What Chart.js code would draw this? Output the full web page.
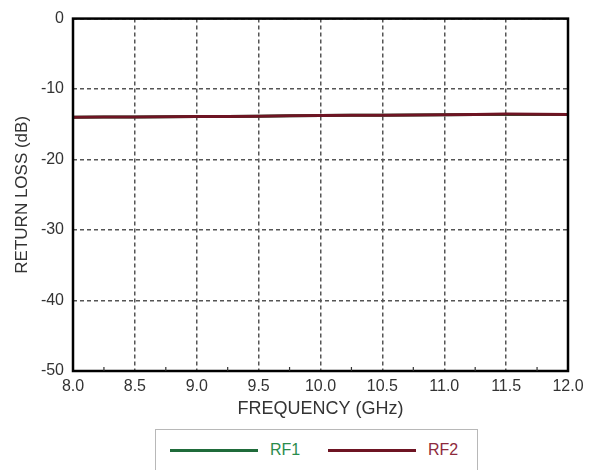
<!DOCTYPE html>
<html>
<head>
<meta charset="utf-8">
<script src="https://cdn.jsdelivr.net/npm/chart.js@4/dist/chart.umd.min.js"></script>
<style>
  html, body { margin: 0; padding: 0; background: #fff; }
  #wrap { position: relative; width: 593px; height: 470px; overflow: hidden; }
  #chart-box { position: absolute; left: 0; top: 0; width: 593px; height: 420px; }
  #legend {
    position: absolute; left: 155px; top: 429px; width: 323px; height: 44px;
    border: 1.5px solid #b8b8b8; box-sizing: border-box;
    font-family: 'Liberation Sans', Arial, sans-serif; font-size: 16px;
  }
  .leg-item { position: absolute; top: 11px; display: flex; align-items: center; }
  .leg-line { display: inline-block; width: 88px; height: 3px; margin-right: 12px; }
</style>
</head>
<body>
<div id="wrap">
  <div id="chart-box"><canvas id="rl-chart"></canvas></div>
  <div id="legend">
    <div class="leg-item" style="left:14px">
      <span class="leg-line" style="background:#1f6b3a"></span><span style="color:#2a8c4c">RF1</span>
    </div>
    <div class="leg-item" style="left:172px">
      <span class="leg-line" style="background:#6e1423"></span><span style="color:#8e2a3c">RF2</span>
    </div>
  </div>
</div>
<script>
/* data */
const FREQ = [8.0, 8.5, 9.0, 9.5, 10.0, 10.5, 11.0, 11.5, 12.0];
const RF1  = [-14.0, -13.95, -13.9, -13.85, -13.75, -13.7, -13.65, -13.6, -13.6];
const RF2  = [-14.0, -13.95, -13.9, -13.85, -13.75, -13.7, -13.65, -13.55, -13.6];

const X_MIN = 8.0, X_MAX = 12.0, X_STEP = 0.5;
const Y_MIN = -50, Y_MAX = 0, Y_STEP = 10;

const FONT = "'Liberation Sans', Arial, sans-serif";
const TEXT_COLOR = '#333';
const GRID_COLOR = '#555';

/* frame around the plot + small minor ticks on x */
const framePlugin = {
  id: 'frame',
  afterDatasetsDraw(chart) {
    const { ctx, chartArea: a, scales } = chart;
    ctx.save();
    ctx.strokeStyle = '#000';
    ctx.lineWidth = 2.5;
    ctx.strokeRect(a.left, a.top, a.right - a.left, a.bottom - a.top);
    ctx.lineWidth = 1.2;
    ctx.strokeStyle = '#333';
    for (let v = X_MIN + 0.25; v < X_MAX; v += 0.5) {
      const x = scales.x.getPixelForValue(v);
      ctx.beginPath();
      ctx.moveTo(x, a.bottom);
      ctx.lineTo(x, a.bottom - 4);
      ctx.stroke();
    }
    ctx.restore();
  }
};

new Chart(document.getElementById('rl-chart'), {
  type: 'line',
  data: {
    datasets: [
      {
        label: 'RF1',
        data: FREQ.map((f, i) => ({ x: f, y: RF1[i] })),
        borderColor: '#1f6b3a',
        borderWidth: 3,
        pointRadius: 0,
        tension: 0.3,
        order: 2,
      },
      {
        label: 'RF2',
        data: FREQ.map((f, i) => ({ x: f, y: RF2[i] })),
        borderColor: '#6e1423',
        borderWidth: 3,
        pointRadius: 0,
        tension: 0.3,
        order: 1,
      },
    ],
  },
  options: {
    responsive: true,
    maintainAspectRatio: false,
    animation: false,
    layout: { padding: { top: 15, right: 25, left: 12, bottom: 0 } },
    plugins: { legend: { display: false }, tooltip: { enabled: false } },
    scales: {
      x: {
        type: 'linear',
        min: X_MIN, max: X_MAX,
        ticks: {
          stepSize: X_STEP,
          color: TEXT_COLOR,
          font: { family: FONT, size: 16 },
          padding: 6,
          maxRotation: 0,
          callback: v => v.toFixed(1),
        },
        grid: { color: GRID_COLOR, lineWidth: 1.5, drawTicks: false },
        border: { display: false, dash: [4, 3] },
        title: {
          display: true,
          text: 'FREQUENCY (GHz)',
          color: TEXT_COLOR,
          font: { family: FONT, size: 18 },
          padding: { top: 2, bottom: 0 },
        },
        afterFit(s) { s.height = 49; },
      },
      y: {
        min: Y_MIN, max: Y_MAX,
        ticks: {
          stepSize: Y_STEP,
          color: TEXT_COLOR,
          font: { family: FONT, size: 16 },
          padding: 9,
        },
        grid: { color: GRID_COLOR, lineWidth: 1.5, drawTicks: false },
        border: { display: false, dash: [4, 3] },
        title: {
          display: true,
          text: 'RETURN LOSS (dB)',
          color: TEXT_COLOR,
          font: { family: FONT, size: 17 },
          padding: { top: 0, bottom: 2 },
        },
        afterFit(s) { s.width = 61; },
      },
    },
  },
  plugins: [framePlugin],
});
</script>
</body>
</html>
